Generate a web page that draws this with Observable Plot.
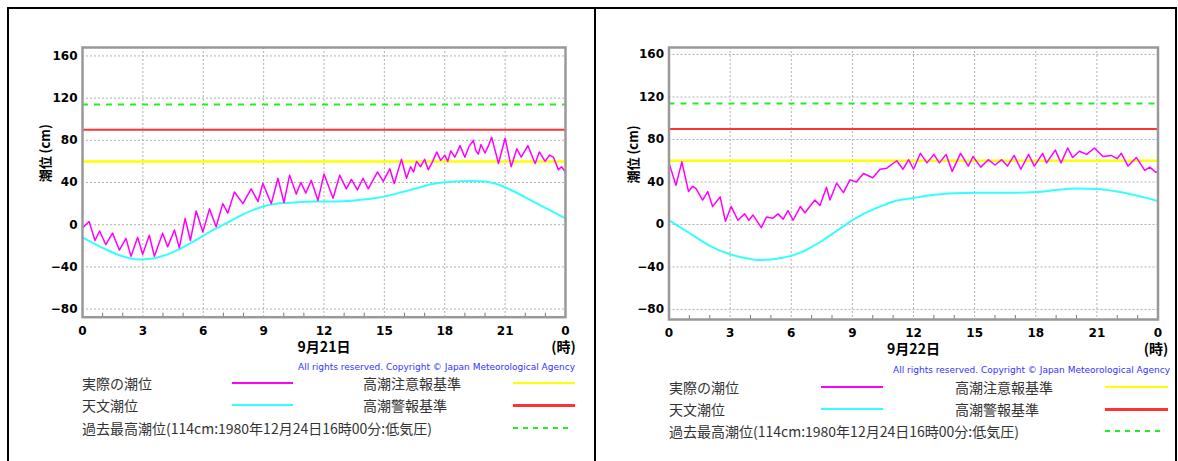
<!DOCTYPE html>
<html><head><meta charset="utf-8">
<script src="https://cdn.jsdelivr.net/npm/d3@7"></script>
<script src="https://cdn.jsdelivr.net/npm/@observablehq/plot@0.6"></script>
<style>
body{margin:0;background:#fff;width:1178px;height:461px;overflow:hidden;position:relative;font-family:"Noto Sans CJK JP",sans-serif;}
#box{position:absolute;left:7px;top:7px;width:1166px;height:470px;border:2px solid #000;}
#divider{position:absolute;left:594px;top:7px;width:2px;height:470px;background:#000;}
.p{position:absolute;top:9px;}
.lg{position:absolute;font-size:14px;line-height:16px;color:#333;white-space:nowrap;}
.ln{position:absolute;}
.cp{position:absolute;font-family:"DejaVu Sans",sans-serif;font-size:9px;line-height:10px;color:#3333ff;white-space:nowrap;}
</style></head>
<body>
<div id="box"></div>
<div id="divider"></div>
<script>
// ---- tick labels / categories ----
const hourTicks = [0, 3, 6, 9, 12, 15, 18, 21, 24];
const hourLabels = ["0", "3", "6", "9", "12", "15", "18", "21", "0"];
const minorHours = [1,2,4,5,7,8,10,11,13,14,16,17,19,20,22,23];
const cmTicks = [-80, -40, 0, 40, 80, 120, 160];
const dateLabels = ["9月21日", "9月22日"];
const hourUnit = "(時)";
const yTitle = "潮位 (cm)";
const copyright = "All rights reserved. Copyright © Japan Meteorological Agency";

// ---- reference levels (cm) ----
const cautionLevel = 60;   // 高潮注意報基準
const warningLevel = 90;   // 高潮警報基準
const recordLevel = 114;   // 過去最高潮位

// ---- legend ----
const legendLeft = ["実際の潮位", "天文潮位", "過去最高潮位(114cm:1980年12月24日16時00分:低気圧)"];
const legendRight = ["高潮注意報基準", "高潮警報基準"];

// ---- 9/21 astronomical tide ----
const day1AstroHours = [0,1,2,2.8,3.5,4.5,5.5,6.5,7,7.5,8,8.5,9,9.5,10,10.5,11.5,12.5,13.5,14.5,15.5,16.5,17.5,18.5,19.3,20,20.5,21,21.5,22,23,24];
const day1AstroCm    = [-12,-22,-30,-33,-32,-26,-16,-5,0,5,10,14,17.5,19.5,20.5,21,22,22,23,25,29,34,39,41,41.5,41,39,35.5,31,26,16,6];

// ---- 9/21 observed tide ----
const day1ObsHours = [0,0.33,0.62,0.85,1.16,1.49,1.83,2.16,2.41,2.74,2.99,3.32,3.57,3.98,4.23,4.57,4.81,5.1,5.36,5.65,5.98,6.31,6.64,6.97,7.22,7.55,7.97,8.38,8.72,8.96,9.38,9.71,10.01,10.29,10.62,10.85,11.1,11.37,11.7,12.0,12.45,12.78,13.11,13.36,13.66,13.94,14.2,14.66,14.94,15.27,15.49,15.85,16.1,16.3,16.45,16.6,16.8,17.0,17.18,17.4,17.6,17.8,18.0,18.15,18.3,18.5,18.76,19.0,19.2,19.42,19.55,19.67,19.8,20.0,20.15,20.33,20.67,21.0,21.3,21.58,21.8,22.13,22.49,22.7,22.99,23.2,23.4,23.65,23.8,24];
const day1ObsCm    = [-3,3,-15,-6,-19,-8,-24,-13,-30,-12,-28,-10,-30,-8,-21,-5,-22,6,-15,13,-7,15,-2,20,11,31,20,34,22,39,20,44,21,47,29,40,30,42,23,48,25,47,34,43,33,44,34,50,41,53,39,62,44,55,50,60,55,62,52,60,69,61,66,60,70,64,75,64,74,80,70,67,76,68,74,83,58,82,55,72,64,75,58,69,60,66,64,52,55,50];

// ---- 9/22 astronomical tide ----
const day2AstroHours = [0,1,2,3,4,4.5,5,5.5,6,6.5,7,7.5,8,8.5,9,9.5,10,10.5,11,12,13,14,15,16,17,18,19,20,21,22,23,24];
const day2AstroCm    = [4,-8,-20,-28,-32.5,-33.5,-33,-31.5,-29.5,-26,-21,-15.5,-9,-2.5,4,9.5,14,18,21.5,25,28,29.5,30,30,30,30.5,32.5,34,33.5,31,27,22];

// ---- 9/22 observed tide ----
const day2ObsHours = [0,0.34,0.63,0.96,1.16,1.32,1.65,1.9,2.14,2.51,2.77,3.05,3.38,3.71,3.92,4.12,4.53,4.78,5.1,5.35,5.6,5.84,6.09,6.45,6.67,7.16,7.41,7.73,7.9,8.23,8.56,8.88,9.2,9.54,10.0,10.36,10.69,11.18,11.48,11.76,12.0,12.34,12.66,13.0,13.27,13.6,13.9,14.31,14.69,14.92,15.3,15.67,16.0,16.33,16.61,16.94,17.27,17.65,17.93,18.34,18.53,18.96,19.24,19.57,19.81,20.14,20.5,20.88,21.3,21.7,22.0,22.2,22.53,22.94,23.35,23.6,23.9,24];
const day2ObsCm    = [58,37,59,31,36,34,23,31,17,26,3,17,4,10,4,9,-3,7,6,10,5,13,4,17,11,23,18,35,23,39,30,42,40,48,44,52,53,60,52,61,52,67,58,66,58,66,50,67,55,64,54,61,56,61,55,65,52,66,55,67,58,70,58,72,63,69,66,72,64,65,62,67,55,63,51,54,49,50];

const C = {obs:"#ff00ff", astro:"#33ffff", caution:"#ffff00", warning:"#ff3333", record:"#22ee22", grid:"#b0b0b0", frame:"#999"};

function panel(o) {
  const obs = o.obsH.map((h, i) => ({h, v: o.obsV[i]}));
  const ast = o.astH.map((h, i) => ({h, v: o.astV[i]}));
  const mt = 38;
  const k = (o.height - mt - o.mb) / (o.yDomain[1] - o.yDomain[0]);
  const y0 = o.yDomain[0];
  return Plot.plot({
    width: o.width, height: o.height,
    marginLeft: o.ml, marginRight: o.mr, marginTop: mt, marginBottom: o.mb,
    x: {domain: [0, 24]},
    y: {domain: o.yDomain},
    style: {background: "transparent", fontFamily: "DejaVu Sans, sans-serif", overflow: "visible"},
    marks: [
      Plot.gridX(hourTicks, {stroke: C.grid, strokeOpacity: 1, strokeDasharray: "2,2"}),
      Plot.gridY(cmTicks, {stroke: C.grid, strokeOpacity: 1, strokeDasharray: "2,2"}),
      Plot.ruleX(minorHours, {x: d => d, y1: y0, y2: y0 + 4 / k, stroke: "#777"}),
      Plot.ruleY([recordLevel], {stroke: C.record, strokeWidth: 2, strokeDasharray: "6,6"}),
      Plot.ruleY([warningLevel], {stroke: C.warning, strokeWidth: 2}),
      Plot.ruleY([cautionLevel], {stroke: C.caution, strokeWidth: 2.5}),
      Plot.line(ast, {x: "h", y: "v", stroke: C.astro, strokeWidth: 2, curve: "monotone-x"}),
      Plot.line(obs, {x: "h", y: "v", stroke: C.obs, strokeWidth: 1.5}),
      Plot.frame({stroke: C.frame, strokeWidth: 2.5}),
      Plot.axisX(hourTicks, {tickSize: 0, tickPadding: 9, tickFormat: d => hourLabels[hourTicks.indexOf(d)], fontWeight: "bold", fontSize: 12, label: null}),
      Plot.axisY(cmTicks, {tickSize: 0, tickPadding: 5, fontWeight: "bold", fontSize: 12, label: null}),
      Plot.text([o.date], {x: () => 12, y: () => y0, dy: 30, fontWeight: "bold", fontSize: 14, fontFamily: "Noto Sans CJK JP"}),
      Plot.text([hourUnit], {x: () => 24, y: () => y0, dy: 30, dx: -2, fontWeight: "bold", fontSize: 14, fontFamily: "Noto Sans CJK JP"}),
      Plot.text([yTitle], {frameAnchor: "left", rotate: -90, dx: o.titleDx, fontWeight: "bold", fontSize: 13, fontFamily: "Noto Sans CJK JP"})
    ]
  });
}

function addPanel(left, o) {
  const svg = panel(o);
  svg.classList.add("p");
  svg.style.left = left + "px";
  document.body.appendChild(svg);
}

addPanel(9, {obsH: day1ObsHours, obsV: day1ObsCm, astH: day1AstroHours, astV: day1AstroCm,
  date: dateLabels[0], width: 586, height: 360, ml: 73, mr: 30, mb: 52.3, yDomain: [-87.7, 168], titleDx: -37});
addPanel(597, {obsH: day2ObsHours, obsV: day2ObsCm, astH: day2AstroHours, astV: day2AstroCm,
  date: dateLabels[1], width: 578, height: 362, ml: 71.5, mr: 17.5, mb: 52, yDomain: [-89.4, 166.6], titleDx: -35});

function addText(cls, txt, x, y, right) {
  const d = document.createElement("div");
  d.className = cls; d.textContent = txt;
  if (right) { d.style.right = (1178 - x) + "px"; } else { d.style.left = x + "px"; }
  d.style.top = y + "px";
  document.body.appendChild(d);
}
function addLine(x1, x2, y, color, w, dashed) {
  const d = document.createElement("div");
  d.className = "ln";
  d.style.left = x1 + "px"; d.style.width = (x2 - x1) + "px";
  d.style.top = (y - w / 2) + "px"; d.style.height = w + "px";
  d.style.background = dashed ? `repeating-linear-gradient(to right, ${color} 0 5px, transparent 5px 10px)` : color;
  document.body.appendChild(d);
}
function addLegend(p) {
  addText("cp", copyright, p.cpRight, p.cpY - 5, true);
  const rows = p.rows;
  addText("lg", legendLeft[0], p.t1, rows[0] - 8);
  addText("lg", legendLeft[1], p.t1, rows[1] - 8);
  addText("lg", legendLeft[2], p.t1, rows[2] - 8);
  addText("lg", legendRight[0], p.t2, rows[0] - 8);
  addText("lg", legendRight[1], p.t2, rows[1] - 8);
  addLine(p.l1a, p.l1b, rows[0], C.obs, 2.5);
  addLine(p.l1a, p.l1b, rows[1], C.astro, 2.5);
  addLine(p.l2a, p.l2b, rows[0], C.caution, 2.5);
  addLine(p.l2a, p.l2b, rows[1], C.warning, 3);
  addLine(p.l2a, p.l2b - 5, rows[2], C.record, 2, true);
}
addLegend({cpRight: 575, cpY: 367, rows: [383, 405, 428], t1: 82, t2: 363, l1a: 232, l1b: 293, l2a: 513, l2b: 575});
addLegend({cpRight: 1170, cpY: 370, rows: [387, 409, 431], t1: 669, t2: 955, l1a: 821, l1b: 883, l2a: 1105, l2b: 1168});
</script>
</body></html>
